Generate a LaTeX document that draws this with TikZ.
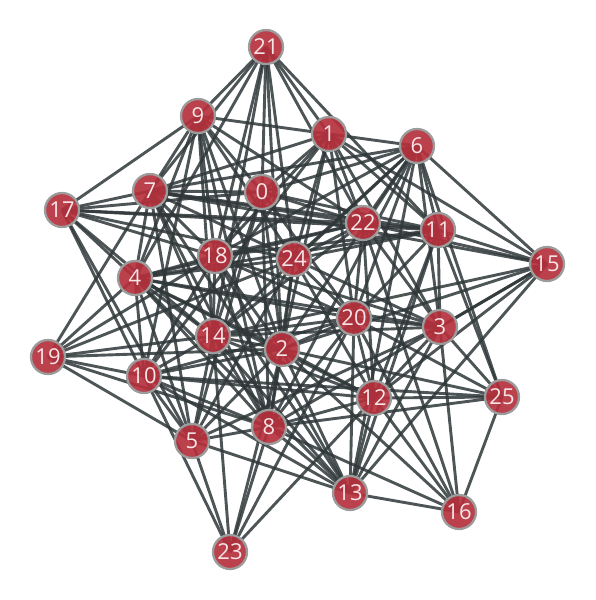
\documentclass[tikz,border=0pt]{standalone}
\usepackage{fontspec}
\setmainfont{Open Sans}
\usetikzlibrary{backgrounds}
\definecolor{nodered}{HTML}{B5313D}
\definecolor{nodering}{HTML}{9C9C9C}
\definecolor{edgegray}{HTML}{2F3739}
\definecolor{labelpink}{HTML}{F6E4E6}
\begin{document}
\begin{tikzpicture}[x=0.02cm, y=-0.02cm]

% definitions
\tikzstyle{vertex} = [circle, minimum size=0.68cm, inner sep=0pt, draw=nodering, line width=1.3pt, fill=nodered, fill opacity=0.92, text opacity=1, text=labelpink, font=\fontsize{12.5}{14}\selectfont]

\tikzstyle{edge} = [draw=edgegray, line width=1.65pt, opacity=0.85]

\useasboundingbox (0,0) rectangle (596,600);

% the graph
\node (n0) [vertex] at (262,192) {0};
\node (n1) [vertex] at (329,134) {1};
\node (n2) [vertex] at (282,349) {2};
\node (n3) [vertex] at (440,327) {3};
\node (n4) [vertex] at (135,278) {4};
\node (n5) [vertex] at (192,441) {5};
\node (n6) [vertex] at (417,146) {6};
\node (n7) [vertex] at (150,191) {7};
\node (n8) [vertex] at (269,427) {8};
\node (n9) [vertex] at (198,116) {9};
\node (n10) [vertex] at (144,376) {10};
\node (n11) [vertex] at (438,230) {11};
\node (n12) [vertex] at (374,398) {12};
\node (n13) [vertex] at (350,493) {13};
\node (n14) [vertex] at (213,336) {14};
\node (n15) [vertex] at (547,264) {15};
\node (n16) [vertex] at (459,512) {16};
\node (n17) [vertex] at (62,210) {17};
\node (n18) [vertex] at (215,256) {18};
\node (n19) [vertex] at (48,357) {19};
\node (n20) [vertex] at (354,318) {20};
\node (n21) [vertex] at (266,47) {21};
\node (n22) [vertex] at (363,223) {22};
\node (n23) [vertex] at (230,552) {23};
\node (n24) [vertex] at (294,259) {24};
\node (n25) [vertex] at (502,397) {25};

\begin{scope}[on background layer]
\foreach \a/\b in {21/9, 21/7, 21/4, 21/18, 21/14, 21/0, 21/24, 21/2, 21/1, 21/11, 21/22,
  9/17, 9/1, 9/7, 9/4, 9/18, 9/14, 9/0, 9/24, 9/2, 9/22, 9/10, 9/8,
  1/6, 1/11, 1/15, 1/0, 1/7, 1/18, 1/24, 1/2, 1/10, 1/22, 1/20, 1/3,
  6/7, 6/0, 6/18, 6/22, 6/24, 6/14, 6/2, 6/20, 6/8, 6/13, 6/11, 6/3, 6/25, 6/15,
  11/15, 11/22, 11/0, 11/7, 11/17, 11/18, 11/4, 11/24, 11/20, 11/3, 11/12, 11/25, 11/13,
  15/22, 15/14, 15/2, 15/3, 15/12, 15/13, 15/8, 15/7,
  3/25, 3/16, 3/13, 3/12, 3/20, 3/24, 3/22, 3/18, 3/4, 3/14, 3/5,
  25/16, 25/12, 25/8, 25/2, 25/20, 25/10,
  16/13, 16/12, 16/20, 16/2, 16/8, 16/22,
  13/8, 13/2, 13/14, 13/18, 13/4, 13/10, 13/5, 13/7, 13/20, 13/12,
  12/20, 12/2, 12/14, 12/4, 12/8, 12/10, 12/22, 12/24, 12/23,
  20/22, 20/24, 20/0, 20/18, 20/4, 20/14, 20/2, 20/10, 20/8, 20/23,
  22/24, 22/0, 22/7, 22/17, 22/18, 22/4, 22/14,
  24/7, 24/17, 24/4, 24/2, 24/8, 24/5, 24/19,
  0/7, 0/17, 0/18, 0/14, 0/2, 0/5, 0/8,
  7/17, 7/18, 7/4, 7/14, 7/5, 7/8, 7/19,
  17/4, 17/18, 17/10, 17/5, 17/14,
  18/4, 18/14, 18/2, 18/10, 18/8, 18/19,
  4/14, 4/2, 4/10, 4/8, 4/5, 4/19,
  14/2, 14/10, 14/5, 14/8, 14/19, 14/23,
  2/10, 2/5, 2/8, 2/19, 2/23,
  10/5, 10/8, 10/19, 10/23,
  8/5, 8/19, 8/23,
  5/19, 5/23}
  \draw [edge] (n\a.center) -- (n\b.center);
\end{scope}

\end{tikzpicture}
\end{document}
